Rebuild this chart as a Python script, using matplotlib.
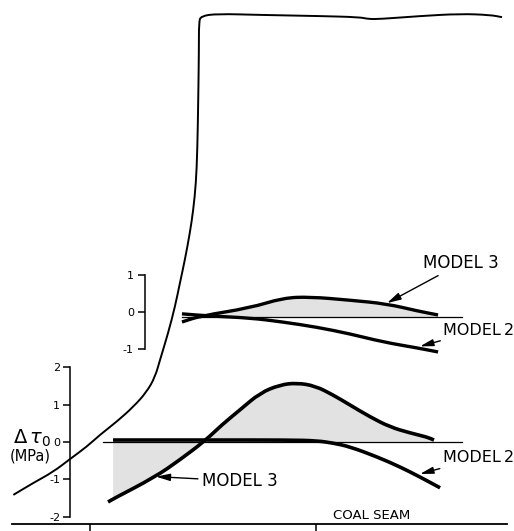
import numpy as np
import matplotlib
matplotlib.use("Agg")
import matplotlib.pyplot as plt
from matplotlib.path import Path
from matplotlib.patches import PathPatch

plt.rcParams['font.family'] = ['DejaVu Sans']
plt.rcParams['axes.unicode_minus'] = False

# horizontal distance (arbitrary units, coal seam ticks at 0 and 100)
seam_ticks = [0, 100]

# thin reference curve drawn across the whole figure (main panel units)
ref_x = [-33.9, -25.1, -16.2, -8.85, -1.46, 4.42, 11.8, 19.2, 25.1, 28.8, 31.0,
         34.6, 37.6, 39.8, 42.0, 44.2, 45.7, 46.9, 47.5, 47.9, 48.2, 48.2,
         49.1, 56.2, 75.2, 101.8, 119.5, 123.0, 128.3, 146.0, 163.7, 177.0, 182.3]
ref_y = [-1.42, -1.10, -0.80, -0.46, -0.13, 0.19, 0.54, 0.94, 1.34, 1.74, 2.20,
         2.92, 3.62, 4.26, 4.88, 5.60, 6.21, 6.94, 7.82, 9.16, 10.50, 11.25,
         11.41, 11.47, 11.44, 11.41, 11.38, 11.33, 11.33, 11.41, 11.47, 11.44, 11.38]

# main panel: change in shear stress (MPa)
m3_x = [8.0, 10.2, 28.8, 39.8, 50.9, 58.4, 66.4, 75.2, 84.1, 91.6, 99.6, 107.5,
        115.0, 123.9, 132.7, 141.6, 149.1, 152.2]
m3_y = [-1.61, -1.53, -0.94, -0.48, 0.03, 0.46, 0.86, 1.31, 1.53, 1.58, 1.50,
        1.26, 0.99, 0.67, 0.40, 0.24, 0.13, 0.05]
m2_x = [10.2, 48.7, 88.5, 100.4, 107.5, 115.0, 127.0, 137.2, 146.0, 154.9]
m2_y = [0.05, 0.05, 0.05, 0.03, -0.03, -0.13, -0.40, -0.67, -0.94, -1.23]
base_x = [5.75, 164.6]
base_y = [0.0, 0.0]

# inset panel
in3_x = [40.7, 48.7, 70.8, 85.4, 97.3, 115.0, 131.4, 144.7, 154.0]
in3_y = [-0.27, -0.11, 0.11, 0.38, 0.41, 0.32, 0.22, 0.03, -0.08]
in2_x = [40.7, 53.1, 70.8, 85.4, 100.4, 115.0, 129.6, 144.7, 154.0]
in2_y = [-0.05, -0.11, -0.16, -0.27, -0.41, -0.59, -0.81, -0.97, -1.08]
in_base_x = [40.7, 164.6]
in_base_y = [-0.135, -0.135]

main_ticks = [-2, -1, 0, 1, 2]
inset_ticks = [-1, 0, 1]


def smooth_path(xs, ys, close_to=None):
    # quadratic bezier through the midpoints, the read points act as controls
    p = np.column_stack([xs, ys])
    verts = [p[0], (p[0] + p[1]) / 2]
    codes = [Path.MOVETO, Path.LINETO]
    for i in range(1, len(p) - 1):
        verts += [p[i], (p[i] + p[i + 1]) / 2]
        codes += [Path.CURVE3, Path.CURVE3]
    verts.append(p[-1])
    codes.append(Path.LINETO)
    if close_to is not None:
        verts += [(p[-1][0], close_to), (p[0][0], close_to), p[0]]
        codes += [Path.LINETO, Path.LINETO, Path.CLOSEPOLY]
    return Path(verts, codes)


def curve(a, xs, ys, lw, z=3):
    a.add_patch(PathPatch(smooth_path(xs, ys), fill=False, ec='k', lw=lw,
                          zorder=z, clip_on=False, joinstyle='round',
                          capstyle='butt'))


W, H = 514, 531
fig = plt.figure(figsize=(W / 100, H / 100), dpi=100)

xl = (-34.5, 184.5)
ax = fig.add_axes([12 / W, 7 / H, 495 / W, 524 / H])
ax.set_xlim(*xl)
ax.set_ylim(-2.2, 11.84)
axi = fig.add_axes([12 / W, (H - 360.1) / H, 495 / W, 96.2 / H])
axi.set_xlim(*xl)
axi.set_ylim(-1.3, 1.3)

for a in (ax, axi):
    a.patch.set_alpha(0)
    for s in ('top', 'right'):
        a.spines[s].set_visible(False)

# main axes
ax.spines['left'].set_position(('data', -8.85))
ax.spines['left'].set_bounds(-2, 2)
ax.spines['left'].set_linewidth(1.1)
ax.spines['bottom'].set_linewidth(1.3)
ax.set_yticks(main_ticks)
ax.set_yticklabels([str(t) for t in main_ticks])
ax.set_xticks(seam_ticks)
ax.set_xticklabels([])
ax.tick_params(axis='y', direction='out', length=5, width=1.1, pad=2, labelsize=8)
ax.tick_params(axis='x', direction='out', length=7, width=1.1)

# inset axes
axi.spines['bottom'].set_visible(False)
axi.spines['left'].set_position(('data', 24.3))
axi.spines['left'].set_bounds(-1, 1)
axi.spines['left'].set_linewidth(1.1)
axi.set_yticks(inset_ticks)
axi.set_yticklabels([str(t) for t in inset_ticks])
axi.set_xticks([])
axi.tick_params(axis='y', direction='out', length=5, width=1.1, pad=3, labelsize=8)

# thin reference curve
curve(ax, ref_x, ref_y, 1.4)

# main panel: shaded area between model 3 and zero
ax.add_patch(PathPatch(smooth_path(m3_x[1:], m3_y[1:], close_to=0.0),
                       fc='#e2e2e2', ec='none', zorder=1))
ax.plot(base_x, base_y, color='k', lw=0.9, zorder=2)
curve(ax, m2_x, m2_y, 2.6)
curve(ax, m3_x, m3_y, 2.6)

# inset
axi.add_patch(PathPatch(smooth_path(in3_x[1:], in3_y[1:], close_to=in_base_y[0]),
                        fc='#e2e2e2', ec='none', zorder=1))
axi.plot(in_base_x, in_base_y, color='k', lw=0.9, zorder=2, clip_on=False)
curve(axi, in2_x, in2_y, 2.4)
curve(axi, in3_x, in3_y, 2.4)

arrow = dict(arrowstyle='-|>,head_length=0.7,head_width=0.18', color='k',
             lw=1.0, shrinkA=1, shrinkB=0)
axi.annotate('MODEL 3', xy=(131.4, 0.24), xytext=(147.5, 1.32),
             fontsize=12, ha='left', va='center', arrowprops=arrow)
axi.annotate('MODEL\u20092', xy=(146.0, -0.93), xytext=(156.3, -0.49),
             fontsize=11.5, ha='left', va='center', arrowprops=arrow)
ax.annotate('MODEL\u20092', xy=(146.0, -0.86), xytext=(156.3, -0.43),
            fontsize=11.5, ha='left', va='center', arrowprops=arrow)
ax.annotate('MODEL 3', xy=(29.2, -0.93), xytext=(49.6, -1.05),
            fontsize=12, ha='left', va='center', arrowprops=arrow)

ax.text(124.8, -1.97, 'COAL SEAM', fontsize=9.5, ha='center', va='center')
ax.text(-25.5, 0.1, r'$\Delta\,\mathit{\tau}_0$', fontsize=14, ha='center', va='center')
ax.text(-26.3, -0.38, '(MPa)', fontsize=10.5, ha='center', va='center')

fig.savefig('out.png', dpi=100)
